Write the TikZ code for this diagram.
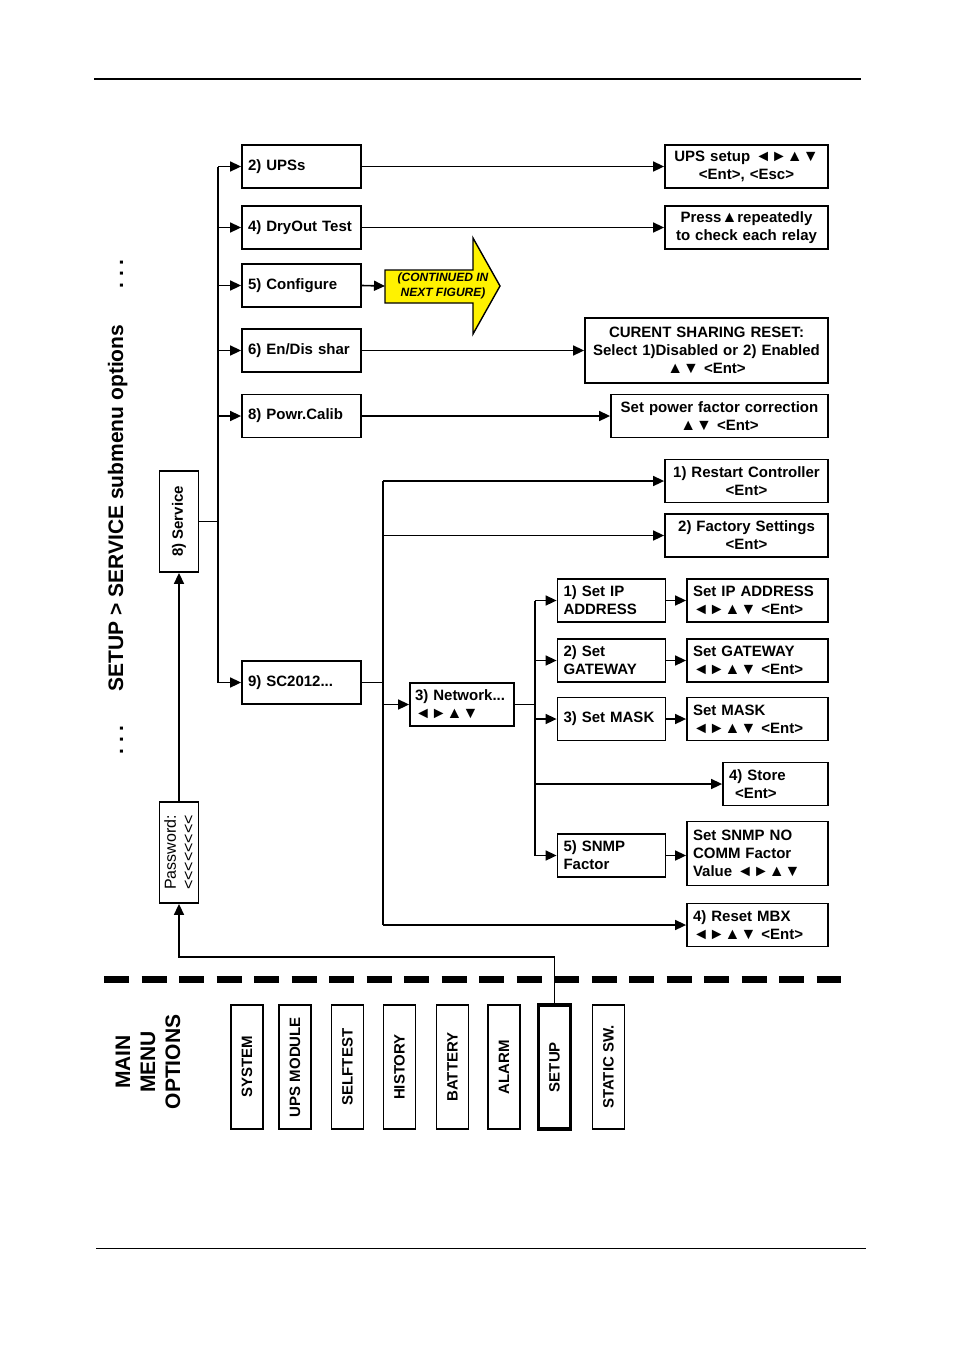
\documentclass[tikz,border=0pt]{standalone}
\usepackage{fontspec}
\setmainfont{Liberation Sans}
\usetikzlibrary{arrows.meta,positioning}
\newcommand{\fb}{\fontsize{15}{18}\selectfont\bfseries}
\newcommand{\keyk}[1]{{\fontsize{16}{16}\selectfont #1}}
\newcommand{\lchev}{<\kern0pt}
\tikzset{
  box/.style={draw,line width=1.8pt,inner xsep=6pt,inner ysep=0pt,
              minimum height=43pt,font=\fb},
  lbox/.style={box,align=left},
  cbox/.style={box,align=center},
  menu/.style={draw,line width=1.8pt,rotate=90,minimum width=124pt,
              minimum height=32pt,inner sep=0pt,font=\fb},
  arr/.style={-{Triangle[length=11pt,width=10pt]},line width=1.6pt},
  link/.style={line width=1.6pt},
}

\begin{document}
\begin{tikzpicture}[x=1pt,y=-1pt,
  vbox/.style={draw,line width=1.8pt,rotate=90,inner sep=0pt},
  big/.style={font=\fontsize{21}{25}\selectfont\bfseries}]

  \useasboundingbox (0,0) rectangle (954,1350);

  % ---------- page rules ----------
  \draw[line width=1.8pt] (94,79) -- (861,79);
  \draw[line width=1pt] (96,1248) -- (866,1248);

  % ---------- side title ----------
  \node[big,rotate=90,anchor=base] (title) at (123,508) {SETUP > SERVICE submenu options};
  \node[big,rotate=90,anchor=base] (dotup) at (123,274) {.\ .\ .};
  \node[big,rotate=90,anchor=base] (dotdn) at (123,740) {.\ .\ .};

  % ---------- service / password ----------
  \node[vbox,minimum width=101pt,minimum height=39pt,font=\fb] (srv) at (179,521.5) {8) Service};
  \node[vbox,minimum width=101pt,minimum height=39pt,align=left,
        font=\fontsize{16}{18}\selectfont] (pw) at (179,852.5)
        {Password:\\\lchev\lchev\lchev\lchev\lchev\lchev\lchev\lchev};

  % ---------- service menu column ----------
  \node[lbox,text width=107pt] (ups)  at (301.5,166.5) {2) UPSs};
  \node[lbox,text width=107pt] (dry)  at (301.5,227.5) {4) DryOut Test};
  \node[lbox,text width=107pt] (cfg)  at (301.5,285.5) {5) Configure};
  \node[lbox,text width=107pt] (shar) at (301.5,350.5) {6) En/Dis shar};
  \node[lbox,text width=107pt] (pcal) at (301.5,416)   {8) Powr.Calib};
  \node[lbox,text width=107pt] (sc)   at (301.5,682.5) {9) SC2012...};

  % ---------- right hand results ----------
  \node[cbox,text width=151pt] (upsset) at (746.5,166.5) {UPS setup \keyk{◄►▲▼}\\<Ent>, <Esc>};
  \node[cbox,text width=151pt] (relay)  at (746.5,227.5) {Press\keyk{▲}repeatedly\\to check each relay};
  \node[cbox,text width=231pt,minimum height=65pt] (share) at (706.5,350.5)
    {CURENT SHARING RESET:\\Select 1)Disabled or 2) Enabled\\\keyk{▲▼} <Ent>};
  \node[cbox,text width=205pt] (pfc)  at (719.5,416)   {Set power factor correction\\\keyk{▲▼} <Ent>};
  \node[cbox,text width=151pt] (rst)  at (746.5,481)   {1) Restart Controller\\<Ent>};
  \node[cbox,text width=151pt] (fact) at (746.5,535.5) {2) Factory Settings\\<Ent>};

  % ---------- continued arrow ----------
  \filldraw[fill=yellow,line width=1.4pt] (385,270) -- (473,270) -- (473,238) -- (500,286)
    -- (473,334) -- (473,303) -- (385,303) -- cycle;
  \node[font=\fontsize{12}{15}\selectfont\bfseries\itshape,align=center] (cont) at (443,286)
    {(CONTINUED IN\\NEXT FIGURE)};
  \coordinate (contin) at (385,286);

  % ---------- network branch ----------
  \node[box,inner xsep=5pt,text width=94pt,align=left] (net) at (462,704.5) {3) Network...\\\keyk{◄►▲▼}};
  \node[lbox,text width=96pt] (ip)   at (611.5,600.5) {1) Set IP\\ADDRESS};
  \node[lbox,text width=96pt] (gw)   at (611.5,660.5) {2) Set\\GATEWAY};
  \node[lbox,text width=96pt] (mask) at (611.5,719)   {3) Set MASK};
  \node[lbox,text width=96pt] (snmp) at (611.5,855.5) {5) SNMP\\Factor};
  \node[lbox,text width=129pt] (ipset)   at (757.5,600.5) {Set~IP~ADDRESS\\\keyk{◄►▲▼} <Ent>};
  \node[lbox,text width=129pt] (gwset)   at (757.5,660.5) {Set GATEWAY\\\keyk{◄►▲▼} <Ent>};
  \node[lbox,text width=129pt] (maskset) at (757.5,719)   {Set MASK\\\keyk{◄►▲▼} <Ent>};
  \node[lbox,text width=93pt]  (store)   at (775.5,784)   {4) Store\\\hspace*{6pt}<Ent>};
  \node[lbox,text width=129pt,minimum height=64pt] (snmpset) at (757.5,853.5)
    {Set SNMP NO\\COMM Factor\\Value \keyk{◄►▲▼}};
  \node[lbox,text width=129pt] (mbx) at (757.5,925) {4) Reset MBX\\\keyk{◄►▲▼} <Ent>};

  % ---------- buses ----------
  \coordinate (b1top) at (218,166.5);
  \coordinate (b1bot) at (218,682.5);
  \coordinate (b2top) at (383,481);
  \coordinate (b2bot) at (383,925);
  \coordinate (b3top) at (535,600.5);
  \coordinate (b3bot) at (535,855.5);
  \draw[link] (b1top) -- (b1bot);
  \draw[link] (b2top) -- (b2bot);
  \draw[link] (b3top) -- (b3bot);

  % ---------- connectors ----------
  \draw[link] (srv.south) -- (srv.south -| b1top);
  \foreach \n in {ups,dry,cfg,shar,pcal,sc}
    {\draw[arr] (b1top |- \n.west) -- (\n.west);}
  \draw[arr] (ups.east) -- (upsset.west);
  \draw[arr] (dry.east) -- (relay.west);
  \draw[arr] (cfg.east) -- (contin);
  \draw[arr] (shar.east) -- (share.west);
  \draw[arr] (pcal.east) -- (pfc.west);
  \draw[link] (sc.east) -- (sc.east -| b2top);
  \foreach \n in {rst,fact,net,mbx}
    {\draw[arr] (b2top |- \n.west) -- (\n.west);}
  \draw[link] (net.east) -- (net.east -| b3top);
  \foreach \n in {ip,gw,mask,store,snmp}
    {\draw[arr] (b3top |- \n.west) -- (\n.west);}
  \draw[arr] (ip.east) -- (ipset.west);
  \draw[arr] (gw.east) -- (gwset.west);
  \draw[arr] (mask.east) -- (maskset.west);
  \draw[arr] (snmp.east) -- (snmp.east -| snmpset.west);
  \draw[arr] (pw.east) -- (srv.west);

  % ---------- main menu ----------
  \draw[line width=7pt,dash pattern=on 25pt off 12.5pt] (104,979) -- (841,979);
  \node[big,rotate=90,align=center] (mainm) at (148,1062) {MAIN\\MENU\\OPTIONS};
  \foreach \x/\n/\t in {247/msys/SYSTEM,295/mups/UPS MODULE,347.5/mself/SELFTEST,
                        399.5/mhist/HISTORY,452.5/mbat/BATTERY,504/malarm/ALARM,
                        608.5/mstat/STATIC SW.}
    {\node[menu] (\n) at (\x,1067) {\t};}
  \node[menu,line width=3.6pt] (msetup) at (554.5,1067) {SETUP};
  \coordinate (pwturn) at (179,957);
  \draw[arr] (msetup.east) |- (pwturn) -- (pw.west);
\end{tikzpicture}
\end{document}
